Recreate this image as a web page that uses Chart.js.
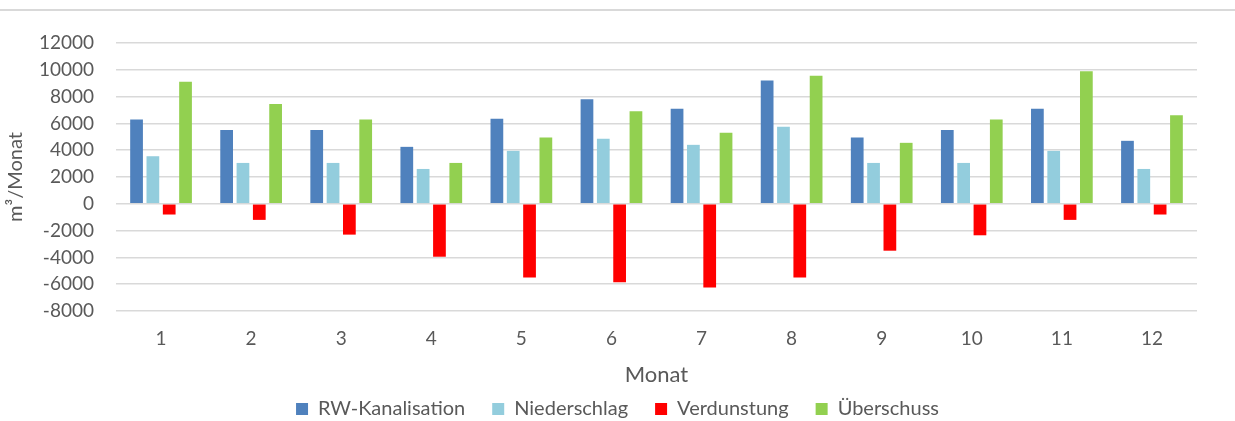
<!DOCTYPE html>
<html>
<head>
<meta charset="utf-8">
<script src="https://cdn.jsdelivr.net/npm/chart.js@4"></script>
<style>
    html, body { margin: 0; padding: 0; background: #fff; }
    #wrap { width: 1235px; height: 421px; position: relative; }
</style>
</head>
<body>
<div id="wrap"><canvas id="chart" width="1235" height="421"></canvas></div>
<script>
// Données du graphique
const months = ['1', '2', '3', '4', '5', '6', '7', '8', '9', '10', '11', '12'];
const rwKanalisation = [6300, 5500, 5500, 4250, 6350, 7800, 7100, 9200, 4950, 5500, 7100, 4700];
const niederschlag = [3550, 3050, 3050, 2600, 3950, 4850, 4400, 5750, 3050, 3050, 3950, 2600];
const verdunstung = [-800, -1200, -2300, -3950, -5500, -5850, -6250, -5500, -3500, -2350, -1200, -800];
const ueberschuss = [9100, 7450, 6300, 3050, 4950, 6900, 5300, 9550, 4550, 6300, 9900, 6600];
const yTicks = [-8000, -6000, -4000, -2000, 0, 2000, 4000, 6000, 8000, 10000, 12000];

const fontFamily = 'Lato, "Open Sans", sans-serif';
const textColor = '#595959';

// Ligne grise en haut + position de la légende
const layoutTweaks = {
    id: 'layoutTweaks',
    afterLayout(chart) {
        const lg = chart.legend;
        if (!lg) return;
        const dx = chart.width / 2 - (lg.left + lg.right) / 2;
        lg.left += dx;
        lg.right += dx;
        lg.top = chart.height - 49;
        lg.bottom = chart.height;
        lg.height = lg.bottom - lg.top;
    },
    beforeDraw(chart) {
        const ctx = chart.ctx;
        ctx.save();
        ctx.strokeStyle = '#d9d9d9';
        ctx.lineWidth = 2;
        ctx.beginPath();
        ctx.moveTo(0, 10);
        ctx.lineTo(chart.width, 10);
        ctx.stroke();
        ctx.restore();
    }
};

function makeSet(label, data, color) {
    return {
        label: label,
        data: data,
        backgroundColor: color,
        borderWidth: 0,
        barPercentage: 0.78,
        categoryPercentage: 0.725
    };
}

new Chart(document.getElementById('chart'), {
    type: 'bar',
    data: {
        labels: months,
        datasets: [
            makeSet('RW-Kanalisation', rwKanalisation, '#4f81bd'),
            makeSet('Niederschlag', niederschlag, '#93cddd'),
            makeSet('Verdunstung', verdunstung, '#ff0000'),
            makeSet('Überschuss', ueberschuss, '#92d050')
        ]
    },
    options: {
        responsive: false,
        animation: false,
        layout: { padding: { top: 43, right: 38, left: 0, bottom: 0 } },
        plugins: {
            tooltip: { enabled: false },
            legend: {
                position: 'bottom',
                maxHeight: 30,
                labels: {
                    boxWidth: 12,
                    boxHeight: 12,
                    padding: 27,
                    color: textColor,
                    font: { family: fontFamily, size: 20 }
                }
            }
        },
        scales: {
            x: {
                afterFit(scale) {
                    scale.height = 80;
                },
                grid: { display: false, drawTicks: false },
                border: { display: false },
                ticks: { color: textColor, font: { family: fontFamily, size: 19 }, padding: 16 },
                title: {
                    display: true,
                    text: 'Monat',
                    color: textColor,
                    font: { family: fontFamily, size: 22 },
                    padding: { top: 0, bottom: 3 }
                }
            },
            y: {
                min: -8000,
                max: 12000,
                afterBuildTicks(scale) {
                    scale.ticks = yTicks.map(v => ({ value: v }));
                },
                afterFit(scale) {
                    scale.width = 116;
                },
                grid: { color: '#d9d9d9', lineWidth: 1.5, drawTicks: false },
                border: { display: false },
                ticks: {
                    color: textColor,
                    font: { family: fontFamily, size: 19 },
                    padding: 22,
                    callback: (value) => String(value)
                },
                title: {
                    display: true,
                    text: 'm³/Monat',
                    color: textColor,
                    font: { family: fontFamily, size: 20 },
                    padding: { top: 4, bottom: 0 }
                }
            }
        }
    },
    plugins: [layoutTweaks]
});
</script>
</body>
</html>
